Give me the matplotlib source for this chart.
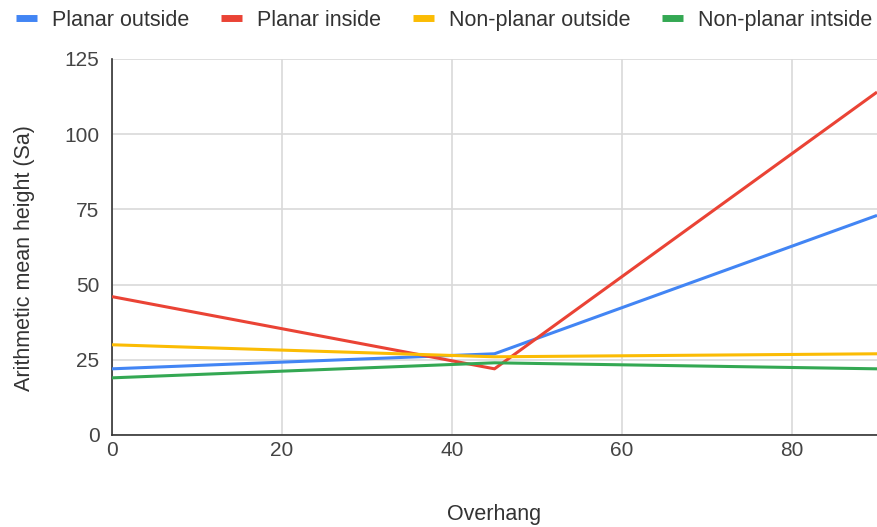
import matplotlib
matplotlib.use("Agg")
import matplotlib.pyplot as plt
from matplotlib.lines import Line2D

plt.rcParams['font.family'] = ['Liberation Sans', 'DejaVu Sans']

overhang = [0, 45, 90]
planar_outside = [22, 27, 73]
planar_inside = [46, 22, 114]
nonplanar_outside = [30, 26, 27]
nonplanar_intside = [19, 24, 22]

series = [
    ("Planar outside", planar_outside, "#4285F4"),
    ("Planar inside", planar_inside, "#EA4335"),
    ("Non-planar outside", nonplanar_outside, "#FBBC04"),
    ("Non-planar intside", nonplanar_intside, "#34A853"),
]

x_ticks = [0, 20, 40, 60, 80]
y_ticks = [0, 25, 50, 75, 100, 125]

fig = plt.figure(figsize=(8.77, 5.27), dpi=100)
ax = fig.add_axes([112 / 877, 92 / 527, 765 / 877, 376 / 527])

for label, values, color in series:
    ax.plot(overhang, values, color=color, linewidth=2.2, label=label,
            solid_capstyle='butt', zorder=3)

ax.set_xlim(0, 90)
ax.set_ylim(0, 125)
ax.set_xticks(x_ticks)
ax.set_yticks(y_ticks)
ax.grid(True, color="#d9d9d9", linewidth=1.2, zorder=0)
ax.set_axisbelow(True)

for side in ("top", "right"):
    ax.spines[side].set_visible(False)
for side in ("left", "bottom"):
    ax.spines[side].set_color("#333333")
    ax.spines[side].set_linewidth(1.2)

ax.tick_params(axis='y', length=0, labelsize=15, labelcolor="#444444", pad=9)
ax.tick_params(axis='x', length=0, labelsize=15, labelcolor="#444444", pad=4)
ax.set_xlabel("Overhang", fontsize=15.5, color="#333333", labelpad=32)
ax.set_ylabel("Arithmetic mean height (Sa)", fontsize=15.5, color="#333333", labelpad=21)
ax.yaxis.label.set_y(0.47)

handles = [Line2D([0], [0], color=c, linewidth=5, solid_capstyle='butt') for _, _, c in series]
fig.legend(handles, [s[0] for s in series], loc="upper left", bbox_to_anchor=(0.008, 0.998),
           ncol=4, frameon=False, fontsize=15.5, handlelength=1.0, handletextpad=0.7,
           columnspacing=1.45, labelcolor="#333333", borderaxespad=0.0)

fig.savefig("out.png", dpi=100, facecolor="white")
